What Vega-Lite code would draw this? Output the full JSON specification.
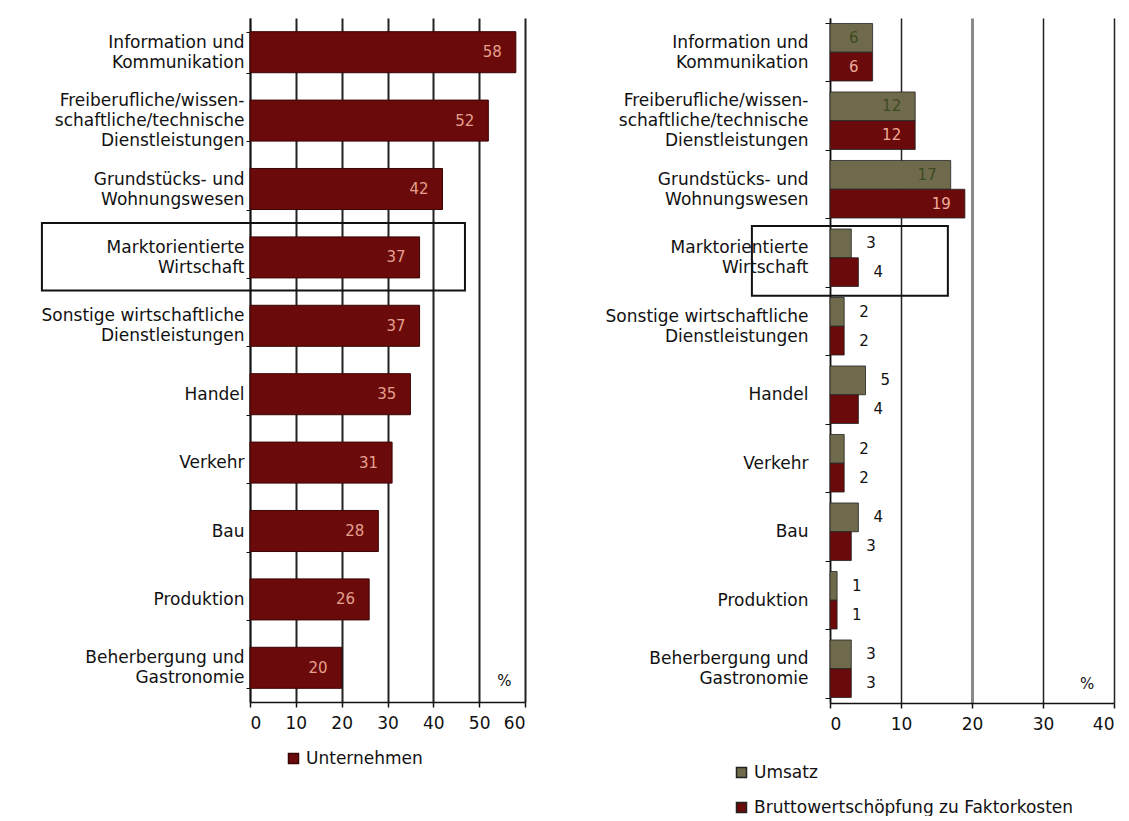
{
  "$schema": "https://vega.github.io/schema/vega-lite/v6.json",
  "padding": {"left": 40, "top": 9, "right": 5, "bottom": 0},
  "background": "white",
  "config": {
    "font": "DejaVu Sans",
    "view": {"stroke": null},
    "axis": {"labelFont": "DejaVu Sans", "labelColor": "#111", "domainColor": "#111", "tickColor": "#111", "title": null}
  },
  "datasets": {
    "links": [
      {"category": "Information und|Kommunikation", "series": "Unternehmen", "value": 58},
      {"category": "Freiberufliche/wissen-|schaftliche/technische|Dienstleistungen", "series": "Unternehmen", "value": 52},
      {"category": "Grundstücks- und|Wohnungswesen", "series": "Unternehmen", "value": 42},
      {"category": "Marktorientierte|Wirtschaft", "series": "Unternehmen", "value": 37},
      {"category": "Sonstige wirtschaftliche|Dienstleistungen", "series": "Unternehmen", "value": 37},
      {"category": "Handel", "series": "Unternehmen", "value": 35},
      {"category": "Verkehr", "series": "Unternehmen", "value": 31},
      {"category": "Bau", "series": "Unternehmen", "value": 28},
      {"category": "Produktion", "series": "Unternehmen", "value": 26},
      {"category": "Beherbergung und|Gastronomie", "series": "Unternehmen", "value": 20}
    ],
    "rechts": [
      {"category": "Information und|Kommunikation", "series": "Umsatz", "value": 6},
      {"category": "Information und|Kommunikation", "series": "Bruttowertschöpfung zu Faktorkosten", "value": 6},
      {"category": "Freiberufliche/wissen-|schaftliche/technische|Dienstleistungen", "series": "Umsatz", "value": 12},
      {"category": "Freiberufliche/wissen-|schaftliche/technische|Dienstleistungen", "series": "Bruttowertschöpfung zu Faktorkosten", "value": 12},
      {"category": "Grundstücks- und|Wohnungswesen", "series": "Umsatz", "value": 17},
      {"category": "Grundstücks- und|Wohnungswesen", "series": "Bruttowertschöpfung zu Faktorkosten", "value": 19},
      {"category": "Marktorientierte|Wirtschaft", "series": "Umsatz", "value": 3},
      {"category": "Marktorientierte|Wirtschaft", "series": "Bruttowertschöpfung zu Faktorkosten", "value": 4},
      {"category": "Sonstige wirtschaftliche|Dienstleistungen", "series": "Umsatz", "value": 2},
      {"category": "Sonstige wirtschaftliche|Dienstleistungen", "series": "Bruttowertschöpfung zu Faktorkosten", "value": 2},
      {"category": "Handel", "series": "Umsatz", "value": 5},
      {"category": "Handel", "series": "Bruttowertschöpfung zu Faktorkosten", "value": 4},
      {"category": "Verkehr", "series": "Umsatz", "value": 2},
      {"category": "Verkehr", "series": "Bruttowertschöpfung zu Faktorkosten", "value": 2},
      {"category": "Bau", "series": "Umsatz", "value": 4},
      {"category": "Bau", "series": "Bruttowertschöpfung zu Faktorkosten", "value": 3},
      {"category": "Produktion", "series": "Umsatz", "value": 1},
      {"category": "Produktion", "series": "Bruttowertschöpfung zu Faktorkosten", "value": 1},
      {"category": "Beherbergung und|Gastronomie", "series": "Umsatz", "value": 3},
      {"category": "Beherbergung und|Gastronomie", "series": "Bruttowertschöpfung zu Faktorkosten", "value": 3}
    ]
  },
  "spacing": 79,
  "resolve": {"scale": {"x": "independent", "y": "independent", "color": "independent"}, "legend": {"color": "independent"}},
  "hconcat": [
    {
      "width": 275,
      "height": 684,
      "data": {"name": "links"},
      "layer": [
        {
          "mark": {"type": "bar", "stroke": "#3a0505", "strokeWidth": 1},
          "encoding": {
            "y": {"field": "category", "type": "nominal", "sort": null,
              "scale": {"paddingInner": 0.4, "paddingOuter": 0.2,
                "domain": ["Information und|Kommunikation", "Freiberufliche/wissen-|schaftliche/technische|Dienstleistungen", "Grundstücks- und|Wohnungswesen", "Marktorientierte|Wirtschaft", "Sonstige wirtschaftliche|Dienstleistungen", "Handel", "Verkehr", "Bau", "Produktion", "Beherbergung und|Gastronomie"]},
              "axis": {"labelExpr": "split(datum.label, '|')", "labelFontSize": 17, "labelLineHeight": 20, "labelPadding": 2, "tickSize": 4, "tickBand": "extent", "domainWidth": 1.5, "labelLimit": 400,
                "labelOffset": {"condition": [{"test": "length(split(datum.label, '|')) === 3", "value": -20}, {"test": "length(split(datum.label, '|')) === 2", "value": -10}], "value": 0}}},
            "x": {"field": "value", "type": "quantitative",
              "scale": {"domain": [0, 60], "nice": false},
              "axis": {"values": [0, 10, 20, 30, 40, 50, 60], "labelFontSize": 17, "labelPadding": 8, "tickSize": 5, "domainWidth": 1.5, "tickWidth": 1.5, "gridColor": "#222", "gridWidth": 2, "gridOpacity": 1}},
            "color": {"field": "series", "type": "nominal",
              "scale": {"domain": ["Unternehmen"], "range": ["#6b0a0a"]},
              "legend": {"orient": "none", "legendX": 35, "legendY": 732, "title": null, "symbolType": "square", "symbolSize": 100, "labelFontSize": 17, "labelFont": "DejaVu Sans", "labelColor": "#111",
                "encode": {"symbols": {"update": {"fill": {"value": "#111"}, "stroke": {"value": "#111"}}}}}}
          }
        },
        {
          "mark": {"type": "text", "align": "right", "baseline": "middle", "dx": -14, "fontSize": 15, "color": "#e3a08e"},
          "encoding": {
            "y": {"field": "category", "type": "nominal", "sort": null},
            "x": {"field": "value", "type": "quantitative"},
            "text": {"field": "value", "type": "quantitative"}
          }
        },
        {
          "transform": [{"filter": "datum.category === 'Marktorientierte|Wirtschaft'"}],
          "mark": {"type": "rect", "fill": null, "stroke": "#111", "strokeWidth": 2, "yOffset": -14, "y2Offset": 33},
          "encoding": {
            "y": {"field": "category", "type": "nominal", "sort": null, "bandPosition": 0},
            "y2": {"field": "category"},
            "x": {"datum": -45.4, "type": "quantitative"},
            "x2": {"datum": 46.9}
          }
        },
        {
          "data": {"values": [{"label": "%"}]},
          "mark": {"type": "text", "fontSize": 15, "color": "#111", "dy": 13},
          "encoding": {
            "y": {"datum": "Beherbergung und|Gastronomie", "type": "nominal"},
            "x": {"datum": 55.5, "type": "quantitative"},
            "text": {"field": "label"}
          }
        }
      ]
    },
    {
      "width": 284,
      "height": 685,
      "data": {"name": "rechts"},
      "layer": [
        {
          "mark": {"type": "bar", "stroke": "#222", "strokeWidth": 0.8},
          "encoding": {
            "y": {"field": "category", "type": "nominal", "sort": null,
              "scale": {"paddingInner": 0.16, "paddingOuter": 0.08,
                "domain": ["Information und|Kommunikation", "Freiberufliche/wissen-|schaftliche/technische|Dienstleistungen", "Grundstücks- und|Wohnungswesen", "Marktorientierte|Wirtschaft", "Sonstige wirtschaftliche|Dienstleistungen", "Handel", "Verkehr", "Bau", "Produktion", "Beherbergung und|Gastronomie"]},
              "axis": {"labelExpr": "split(datum.label, '|')", "labelFontSize": 17, "labelLineHeight": 20, "labelPadding": 17, "tickSize": 5, "tickBand": "extent", "domainWidth": 1.5, "labelLimit": 400,
                "labelOffset": {"condition": [{"test": "length(split(datum.label, '|')) === 3", "value": -20}, {"test": "length(split(datum.label, '|')) === 2", "value": -10}], "value": 0}}},
            "yOffset": {"field": "series", "type": "nominal", "sort": ["Umsatz", "Bruttowertschöpfung zu Faktorkosten"]},
            "x": {"field": "value", "type": "quantitative",
              "scale": {"domain": [0, 40], "nice": false},
              "axis": {"values": [0, 10, 20, 30, 40], "labelFontSize": 17, "labelPadding": 8, "tickSize": 5, "domainWidth": 1.5, "tickWidth": 1.5, "gridOpacity": 1,
                "gridColor": {"condition": {"test": "datum.value === 20", "value": "#8a8a8a"}, "value": "#222"},
                "gridWidth": {"condition": {"test": "datum.value === 20", "value": 3}, "value": 1.5}}},
            "color": {"field": "series", "type": "nominal",
              "scale": {"domain": ["Umsatz", "Bruttowertschöpfung zu Faktorkosten"], "range": ["#6f6a4c", "#6b0a0a"]},
              "legend": {"orient": "none", "legendX": -97, "legendY": 746, "title": null, "direction": "vertical", "symbolType": "square", "symbolSize": 100, "rowPadding": 17, "labelFontSize": 17, "labelFont": "DejaVu Sans", "labelColor": "#111", "labelLimit": 500,
                "encode": {"symbols": {"update": {"fill": {"value": "#111"}, "stroke": {"value": "#111"}}}}}}
          }
        },
        {
          "transform": [{"filter": "datum.value >= 6"}],
          "mark": {"type": "text", "align": "right", "baseline": "middle", "dx": -14, "fontSize": 15},
          "encoding": {
            "y": {"field": "category", "type": "nominal", "sort": null},
            "yOffset": {"field": "series", "type": "nominal", "sort": ["Umsatz", "Bruttowertschöpfung zu Faktorkosten"]},
            "x": {"field": "value", "type": "quantitative"},
            "text": {"field": "value", "type": "quantitative"},
            "color": {"condition": {"test": "datum.series === 'Umsatz'", "value": "#3d4a22"}, "value": "#eeaa98"}
          }
        },
        {
          "transform": [{"filter": "datum.value < 6"}],
          "mark": {"type": "text", "align": "left", "baseline": "middle", "dx": 15, "fontSize": 15, "color": "#111"},
          "encoding": {
            "y": {"field": "category", "type": "nominal", "sort": null},
            "yOffset": {"field": "series", "type": "nominal", "sort": ["Umsatz", "Bruttowertschöpfung zu Faktorkosten"]},
            "x": {"field": "value", "type": "quantitative"},
            "text": {"field": "value", "type": "quantitative"}
          }
        },
        {
          "data": {"values": [{"category": "Marktorientierte|Wirtschaft"}]},
          "mark": {"type": "rect", "fill": null, "stroke": "#111", "strokeWidth": 2, "yOffset": -3, "y2Offset": 38},
          "encoding": {
            "y": {"field": "category", "type": "nominal", "bandPosition": 0},
            "y2": {"field": "category"},
            "x": {"datum": -11.0, "type": "quantitative"},
            "x2": {"datum": 16.6}
          }
        },
        {
          "data": {"values": [{"label": "%"}]},
          "mark": {"type": "text", "fontSize": 15, "color": "#111", "dy": 15},
          "encoding": {
            "y": {"datum": "Beherbergung und|Gastronomie", "type": "nominal"},
            "x": {"datum": 36.2, "type": "quantitative"},
            "text": {"field": "label"}
          }
        }
      ]
    }
  ]
}
